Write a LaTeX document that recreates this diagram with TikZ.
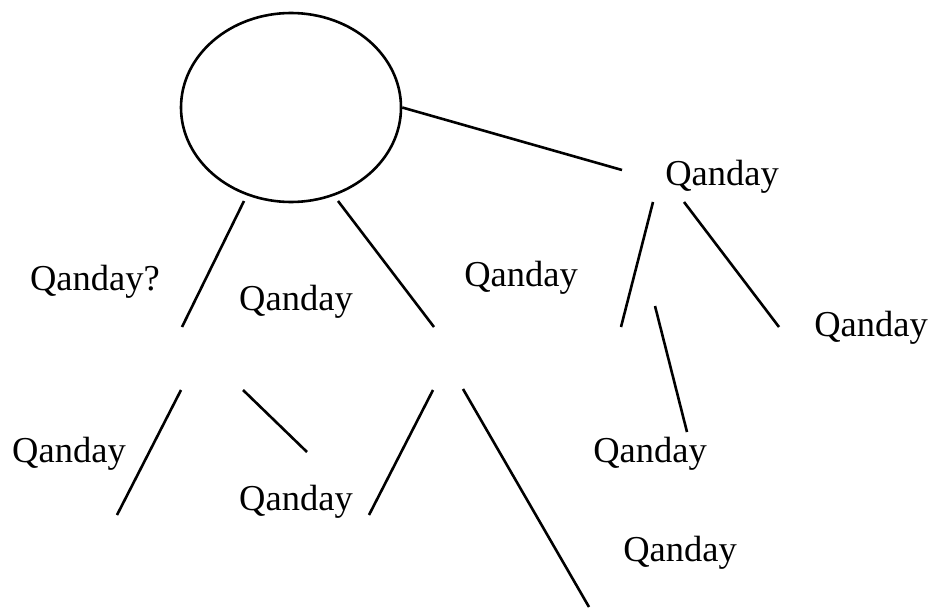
\documentclass[tikz,border=0pt]{standalone}
\usepackage{fontspec}
\setmainfont{Liberation Serif}
\usetikzlibrary{positioning, shapes.geometric}

\begin{document}
\begin{tikzpicture}[x=1pt, y=-1pt,
		line width=2.6pt,
		word/.style={anchor=base, inner sep=0pt, font=\fontsize{36.5}{40}\selectfont},
		bubble/.style={ellipse, draw, inner sep=0pt, minimum width=220pt, minimum height=189pt}
		]
		\useasboundingbox (0,0) rectangle (936,610);
		% the circle at the top
		\node [bubble] (root) at (291,107.5) {};
		% line ends
		\coordinate (rq) at (622,170);
		\coordinate (lt) at (244,201);   \coordinate (lb) at (182,327);
		\coordinate (mt) at (338,201);   \coordinate (mb) at (434,327);
		\coordinate (qlt) at (653,202);  \coordinate (qlb) at (621,327);
		\coordinate (qrt) at (684,202);  \coordinate (qrb) at (779,327);
		\coordinate (qmt) at (655,306);  \coordinate (qmb) at (687,432);
		\coordinate (llt) at (181,390);  \coordinate (llb) at (117,515);
		\coordinate (lrt) at (243,390);  \coordinate (lrb) at (307,452);
		\coordinate (mlt) at (433,390);  \coordinate (mlb) at (369,515);
		\coordinate (mrt) at (463,389);  \coordinate (mrb) at (589,607);
		% labels
		\node [word] (wleft) at (95,290) {Qanday?};
		\node [word] (wmid) at (296,310) {Qanday};
		\node [word] (wmr) at (521,286) {Qanday};
		\node [word] (wtop) at (722,185) {Qanday};
		\node [word] (wfar) at (871,336) {Qanday};
		\node [word] (wll) at (69,462) {Qanday};
		\node [word] (wlow) at (296,510) {Qanday};
		\node [word] (wq) at (650,462) {Qanday};
		\node [word] (wbot) at (680,561) {Qanday};
		% branches
		\draw (root.east) -- (rq);
		\draw (lt) -- (lb);
		\draw (mt) -- (mb);
		\draw (qlt) -- (qlb);
		\draw (qrt) -- (qrb);
		\draw (qmt) -- (qmb);
		\draw (llt) -- (llb);
		\draw (lrt) -- (lrb);
		\draw (mlt) -- (mlb);
		\draw (mrt) -- (mrb);
	\end{tikzpicture}
\end{document}
